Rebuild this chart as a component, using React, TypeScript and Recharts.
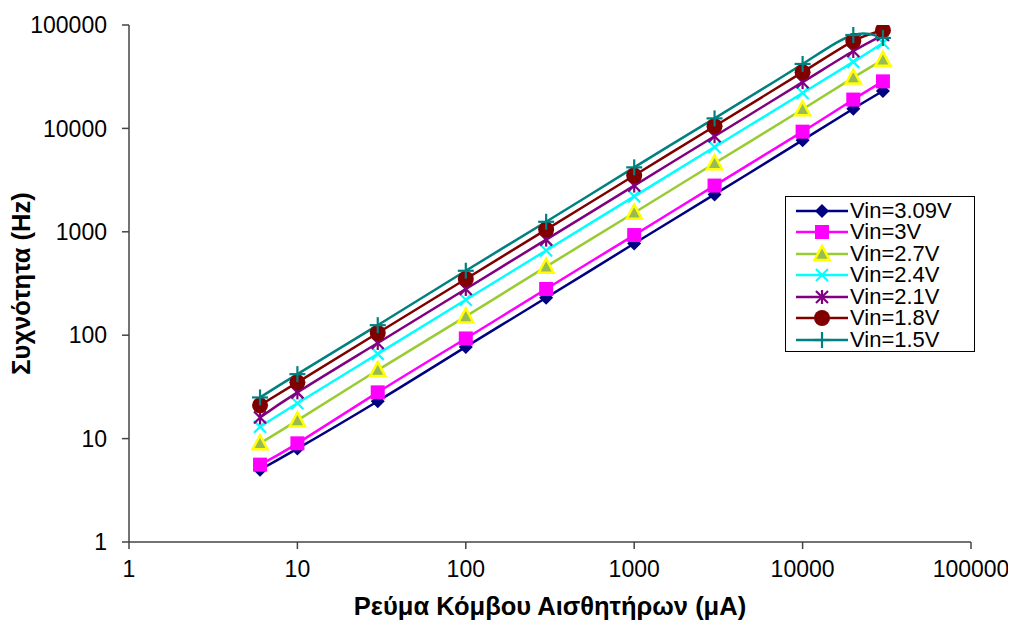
import React from "react";
import { LineChart, Line, XAxis, YAxis } from "recharts";

const currents = [6, 10, 30, 100, 300, 1000, 3000, 10000, 20000, 30000];
const vin309 = [5, 8, 23, 77, 230, 770, 2300, 7700, 15500, 23000];
const vin300 = [5.6, 9, 28, 93, 280, 930, 2800, 9300, 19000, 28500];
const vin270 = [9, 15, 46, 152, 460, 1530, 4600, 15300, 31000, 46000];
const vin240 = [13, 22, 66, 220, 660, 2200, 6600, 22000, 44000, 67000];
const vin210 = [16, 28, 84, 280, 840, 2800, 8400, 28000, 56000, 80000];
const vin180 = [21, 35, 105, 350, 1050, 3500, 10500, 35000, 70000, 89000];
const vin150 = [25, 42, 125, 420, 1250, 4200, 12500, 42000, 80000, 75000];
const axisTicks = [1, 10, 100, 1000, 10000, 100000];

const seriesNames = ["Vin=3.09V", "Vin=3V", "Vin=2.7V", "Vin=2.4V", "Vin=2.1V", "Vin=1.8V", "Vin=1.5V"];
const seriesValues = [vin309, vin300, vin270, vin240, vin210, vin180, vin150];
const seriesColors = ["#000080", "#FF00FF", "#99CC33", "#00FFFF", "#800080", "#800000", "#008080"];
const seriesShapes = ["diamond", "square", "triangle", "x", "asterisk", "circle", "plus"];
const seriesKeys = ["s0", "s1", "s2", "s3", "s4", "s5", "s6"];

const data = currents.map((x, i) => {
  const row: any = { x };
  seriesKeys.forEach((k, j) => {
    row[k] = seriesValues[j][i];
  });
  return row;
});

function Marker({ shape, color, cx, cy }: { shape: string; color: string; cx: number; cy: number }) {
  if (cx == null || cy == null || isNaN(cx) || isNaN(cy)) return <g />;
  switch (shape) {
    case "diamond":
      return <polygon points={`${cx},${cy - 7} ${cx + 7},${cy} ${cx},${cy + 7} ${cx - 7},${cy}`} fill={color} />;
    case "square":
      return <rect x={cx - 7} y={cy - 7} width={14} height={14} fill={color} />;
    case "triangle":
      return (
        <polygon
          points={`${cx},${cy - 8} ${cx + 7.5},${cy + 6} ${cx - 7.5},${cy + 6}`}
          fill="#99BB55"
          stroke="#FFFF00"
          strokeWidth={2.5}
          strokeLinejoin="miter"
        />
      );
    case "x":
      return (
        <g stroke={color} strokeWidth={2.2}>
          <line x1={cx - 6} y1={cy - 6} x2={cx + 6} y2={cy + 6} />
          <line x1={cx - 6} y1={cy + 6} x2={cx + 6} y2={cy - 6} />
        </g>
      );
    case "asterisk":
      return (
        <g stroke={color} strokeWidth={2.2}>
          <line x1={cx - 6} y1={cy - 6} x2={cx + 6} y2={cy + 6} />
          <line x1={cx - 6} y1={cy + 6} x2={cx + 6} y2={cy - 6} />
          <line x1={cx} y1={cy - 7} x2={cx} y2={cy + 7} />
        </g>
      );
    case "circle":
      return <circle cx={cx} cy={cy} r={8} fill={color} />;
    case "plus":
      return (
        <g stroke={color} strokeWidth={2.2}>
          <line x1={cx - 8} y1={cy} x2={cx + 8} y2={cy} />
          <line x1={cx} y1={cy - 8} x2={cx} y2={cy + 8} />
        </g>
      );
    default:
      return <g />;
  }
}

function LegendBox() {
  return (
    <div
      style={{
        position: "absolute",
        left: 777,
        top: 188,
        border: "1.5px solid #000",
        background: "#fff",
        width: 190,
        height: 156,
        boxSizing: "border-box",
        padding: "3px 0 0 0",
        fontFamily: "'Liberation Sans', Arial, sans-serif",
      }}
    >
      {seriesNames.map((name, i) => (
        <div key={name} style={{ display: "flex", alignItems: "center", height: 21.5 }}>
          <svg width={64} height={20} style={{ flex: "none" }}>
            <line x1={10} y1={10} x2={62} y2={10} stroke={seriesColors[i]} strokeWidth={2.5} />
            <Marker shape={seriesShapes[i]} color={seriesColors[i]} cx={36} cy={10} />
          </svg>
          <span style={{ fontSize: 22, lineHeight: "20px", color: "#000", marginLeft: 0, whiteSpace: "nowrap" }}>
            {name}
          </span>
        </div>
      ))}
    </div>
  );
}

const tickStyle = { fontSize: 23, fill: "#000", fontFamily: "'Liberation Sans', Arial, sans-serif" };

export default function App() {
  return (
    <div style={{ position: "relative", width: 1008, height: 618, fontFamily: "'Liberation Sans', Arial, sans-serif" }}>
      <LineChart width={1008} height={618} data={data} margin={{ top: 17, right: 45, bottom: 0, left: 0 }}>
        <XAxis
          dataKey="x"
          type="number"
          scale="log"
          domain={[1, 100000]}
          ticks={axisTicks}
          allowDataOverflow
          height={84}
          tickSize={7}
          tickMargin={12}
          stroke="#444"
          strokeWidth={1.5}
          tick={tickStyle}
          tickFormatter={(v: number) => String(v)}
          label={{
            value: "Ρεύμα Κόμβου Αισθητήρων (μΑ)",
            position: "insideBottom",
            offset: 11,
            style: { fontSize: 25.5, fontWeight: "bold", fill: "#000", textAnchor: "middle" },
          }}
        />
        <YAxis
          type="number"
          scale="log"
          domain={[1, 100000]}
          ticks={axisTicks}
          allowDataOverflow
          width={121}
          tickSize={7}
          tickMargin={15}
          stroke="#444"
          strokeWidth={1.5}
          tick={tickStyle}
          tickFormatter={(v: number) => String(v)}
          label={{
            value: "Συχνότητα (Hz)",
            angle: -90,
            position: "insideLeft",
            offset: 13,
            style: { fontSize: 25.5, fontWeight: "bold", fill: "#000", textAnchor: "middle" },
          }}
        />
        {seriesKeys.map((k, i) => (
          <Line
            key={k}
            dataKey={k}
            name={seriesNames[i]}
            type="natural"
            stroke={seriesColors[i]}
            strokeWidth={2.5}
            isAnimationActive={false}
            dot={(p: any) => (
              <Marker key={`${k}-${p.index}`} shape={seriesShapes[i]} color={seriesColors[i]} cx={p.cx} cy={p.cy} />
            )}
            activeDot={false}
          />
        ))}
      </LineChart>
      <LegendBox />
    </div>
  );
}
